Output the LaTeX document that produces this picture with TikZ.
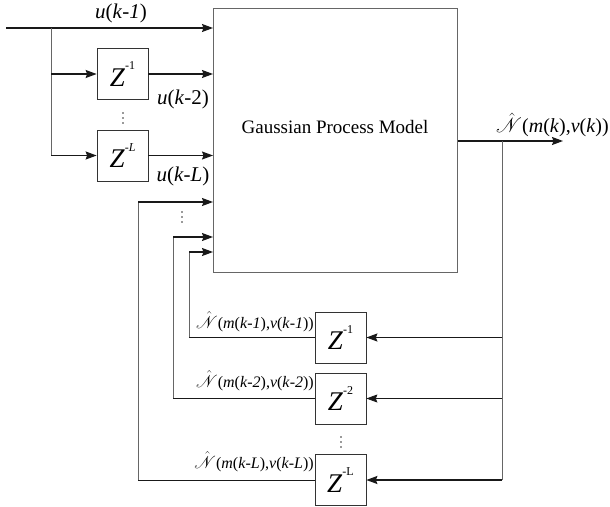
\documentclass[tikz,border=0pt]{standalone}
\usepackage{fontspec}
\setmainfont{Liberation Serif}
\usepackage{mathrsfs}
\usetikzlibrary{arrows.meta}
\newcommand{\zsym}[1]{\textit{Z}\raisebox{1.35ex}{\fontsize{12}{12}\selectfont #1}}
\newcommand{\nhat}{$\skew{5}\hat{\mathscr{N}}$}
\begin{document}
\begin{tikzpicture}[x=1pt,y=-1pt,
  thk/.style={line width=1.4pt,black!90},
  thn/.style={line width=0.8pt,black!60},
  thb/.style={line width=0.8pt,black!90},
  arr/.style={-{Stealth[length=11pt,width=8pt,inset=1.5pt]}},
  zbox/.style={draw=black!80,line width=0.7pt,minimum width=51pt,minimum height=51pt,inner sep=0pt,font=\fontsize{27}{29}\selectfont},
  lbl/.style={font=\fontsize{21}{23}\selectfont,inner sep=0pt},
  nlbl/.style={font=\fontsize{19}{21}\selectfont,inner sep=0pt},
  dotc/.style={fill=black!80,circle,inner sep=0pt,minimum size=1.8pt}]
\useasboundingbox (0,0) rectangle (610,506);
% main box
\node[draw=black!60,line width=0.8pt,minimum width=244pt,minimum height=264pt,anchor=north west,inner sep=0pt] (gp) at (213,8) {};
\node[font=\fontsize{19}{22}\selectfont] (gpt) at (335,127) {Gaussian Process Model};
% delay boxes (input side)
\node[zbox] (z1) at (122.5,74) {\zsym{-1}};
\node[zbox] (zL) at (122.5,155.5) {\zsym{-\textit{L}}};
% delay boxes (feedback)
\node[zbox] (f1) at (340.5,337.5) {\zsym{-1}};
\node[zbox] (f2) at (340.5,398.5) {\zsym{-2}};
\node[zbox] (fL) at (340.5,480) {\zsym{-L}};
% input
\coordinate (in) at (6,28);
\coordinate (br) at (51,28);
\draw[thk,arr] (in) -- (in -| gp.west);
\draw[thn] (br) -- (br |- zL.west);
\draw[thk,arr] (br |- z1.west) -- (z1.west);
\draw[thk,arr] (br |- zL.west) -- (zL.west);
\draw[thk,arr] (z1.east) -- (z1.east -| gp.west);
\draw[thk,arr] (zL.east) -- (zL.east -| gp.west);
% feedback into model
\coordinate (c1) at (189,252);
\coordinate (c2) at (173,237);
\coordinate (c3) at (138,202);
\draw[thn] (c1) -- (c1 |- f1.west);
\draw[thb] (c1 |- f1.west) -- (f1.west);
\draw[thk,arr] (c1) -- (c1 -| gp.west);
\draw[thn] (c2) -- (c2 |- f2.west);
\draw[thb] (c2 |- f2.west) -- (f2.west);
\draw[thk,arr] (c2) -- (c2 -| gp.west);
\draw[thn] (c3) -- (c3 |- fL.west);
\draw[thb] (c3 |- fL.west) -- (fL.west);
\draw[thk,arr] (c3) -- (c3 -| gp.west);
% output
\coordinate (out) at (563,141);
\coordinate (sp) at (502,141);
\draw[thk,arr] (gp.east |- out) -- (out);
\draw[thn] (sp) -- (sp |- fL.east);
\draw[thk,arr] (sp |- f1.east) -- (f1.east);
\draw[thb,arr] (sp |- f2.east) -- (f2.east);
\draw[thk,arr] (sp |- fL.east) -- (fL.east);
% labels
\node[lbl] (l1) at (121,13) {\textit{u}(\textit{k}-\textit{1})};
\node[lbl] (l2) at (183,99) {\textit{u}(\textit{k}-2)};
\node[lbl] (l3) at (183,176) {\textit{u}(\textit{k}-\textit{L})};
\node[font=\fontsize{20}{22}\selectfont,inner sep=0pt,anchor=east] (lo) at (609,125) {\nhat(\textit{m}(\textit{k}),\textit{v}(\textit{k}))};
\node[nlbl,anchor=base east] (n1) at (314,328) {\nhat{\fontsize{16}{17}\selectfont(\textit{m}(\textit{k}-\textit{1}),\textit{v}(\textit{k}-\textit{1}))}};
\node[nlbl,anchor=base east] (n2) at (314,387) {\nhat{\fontsize{16}{17}\selectfont(\textit{m}(\textit{k}-\textit{2}),\textit{v}(\textit{k}-\textit{2}))}};
\node[nlbl,anchor=base east] (n3) at (314,468) {\nhat{\fontsize{16}{17}\selectfont(\textit{m}(\textit{k}-\textit{L}),\textit{v}(\textit{k}-\textit{L}))}};
% dots
\foreach \yy in {113,118,123} \node[dotc] at (123,\yy) {};
\foreach \yy in {212,217,222} \node[dotc] at (182,\yy) {};
\foreach \yy in {437,442,447} \node[dotc] at (341,\yy) {};
\end{tikzpicture}
\end{document}
